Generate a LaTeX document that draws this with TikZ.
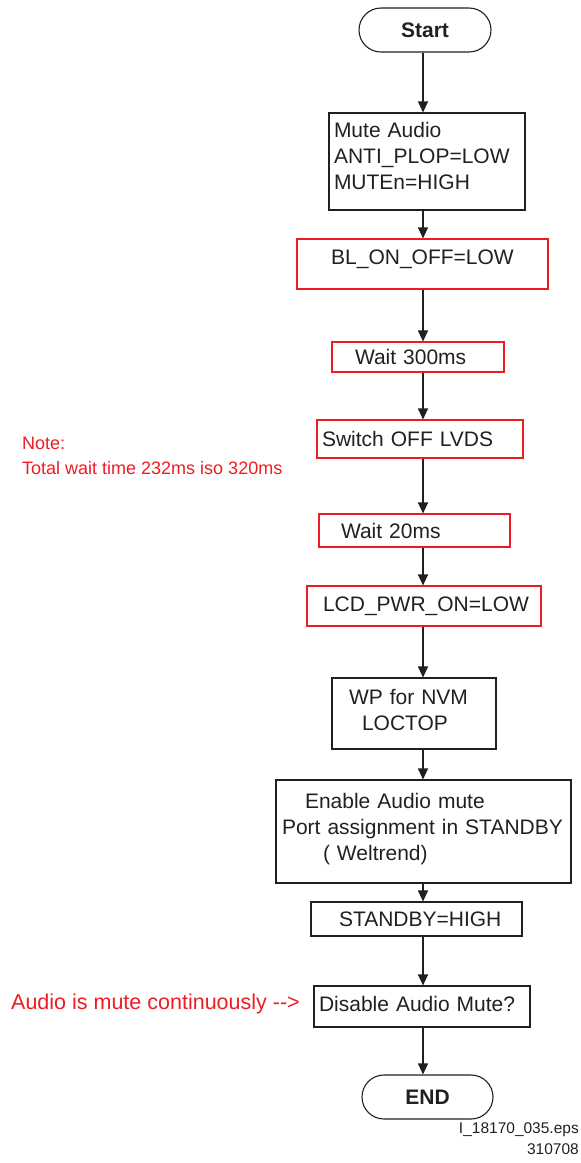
\documentclass[tikz,border=0pt]{standalone}
\usepackage{fontspec}
\setmainfont{Liberation Sans}
\usepackage{xcolor}
\usetikzlibrary{arrows.meta}
\definecolor{flowink}{RGB}{35,31,32}
\definecolor{notered}{RGB}{237,28,36}

\begin{document}
\begin{tikzpicture}[x=1pt, y=-1pt,
        stepbox/.style={rectangle, draw=flowink, line width=1.1pt, text=flowink, align=left, inner ysep=0pt, font=\fontsize{21}{26}\selectfont},
        redbox/.style={stepbox, draw=notered},
        terminal/.style={rectangle, rounded corners=22pt, draw=flowink, line width=1.1pt, text=flowink, minimum height=44pt, font=\fontsize{21}{26}\selectfont\bfseries},
        arrow/.style={-{Triangle[length=11pt, width=10pt]}, line width=1.1pt, draw=flowink},
        remark/.style={text=notered, align=left, inner sep=0pt}
    ]
        \useasboundingbox (0,0) rectangle (581,1163);
        \coordinate (spine) at (423,0);

        % Start
        \node[terminal, minimum width=132pt] (start) at (425,30) {Start};

        % Mute sequence
        \node[stepbox, inner xsep=5pt, text width=186pt, minimum height=97pt, text depth=63pt] (mute) at (427,161.5) {Mute Audio\\ANTI\_PLOP=LOW\\MUTEn=HIGH};
        \node[redbox, align=center, inner xsep=0pt, text width=251pt, minimum height=50pt, text depth=14pt] (bloff) at (422.5,264) {BL\_ON\_OFF=LOW};
        \node[redbox, inner xsep=23pt, text width=126pt, minimum height=30pt] (wait300) at (418,357) {Wait 300ms};
        \node[redbox, inner xsep=5pt, text width=196pt, minimum height=38pt] (lvds) at (420,439) {Switch OFF LVDS};
        \node[redbox, inner xsep=22pt, text width=147pt, minimum height=33pt] (wait20) at (414.5,530.5) {Wait 20ms};
        \node[redbox, inner xsep=16pt, text width=202pt, minimum height=40pt] (lcdpwr) at (424,606) {LCD\_PWR\_ON=LOW};

        % Standby part
        \node[stepbox, inner xsep=4pt, text width=156pt, minimum height=71pt, text depth=33pt] (nvm) at (414,713.5) {\hspace*{13pt}WP for NVM\\\hspace*{26pt}LOCTOP};
        \node[stepbox, inner xsep=4pt, text width=287pt, minimum height=103pt, text depth=62pt] (portmute) at (423.5,831.5) {\hspace*{25pt}Enable Audio mute\\\hspace*{2pt}Port assignment in STANDBY\\\hspace*{43pt}( Weltrend)};
        \node[stepbox, inner xsep=28pt, text width=155pt, minimum height=34pt] (standby) at (416.5,919) {STANDBY=HIGH};
        \node[stepbox, inner xsep=5pt, text width=206pt, minimum height=41pt, text depth=5pt] (unmute) at (422,1006.5) {Disable Audio Mute?};

        % End
        \node[terminal, minimum width=131pt] (stop) at (427.5,1097) {END};

        % Remarks
        \node[remark, anchor=west, font=\fontsize{18}{25}\selectfont] (waitnote) at (22,455.5) {Note:\\Total wait time 232ms iso 320ms};
        \node[remark, anchor=west, font=\fontsize{21.5}{26}\selectfont] (mutenote) at (11,1004) {Audio is mute continuously -\kern0pt-\kern0pt>};
        \node[anchor=east, align=right, inner sep=0pt, text=flowink, font=\fontsize{15.5}{21}\selectfont] (epsref) at (579,1138.5) {I\_18170\_035.eps\\310708};

        % Flow
        \draw[arrow] (start.south -| spine) -- (mute.north -| spine);
        \draw[arrow] (mute.south -| spine) -- (bloff.north -| spine);
        \draw[arrow] (bloff.south -| spine) -- (wait300.north -| spine);
        \draw[arrow] (wait300.south -| spine) -- (lvds.north -| spine);
        \draw[arrow] (lvds.south -| spine) -- (wait20.north -| spine);
        \draw[arrow] (wait20.south -| spine) -- (lcdpwr.north -| spine);
        \draw[arrow] (lcdpwr.south -| spine) -- (nvm.north -| spine);
        \draw[arrow] (nvm.south -| spine) -- (portmute.north -| spine);
        \draw[arrow] (portmute.south -| spine) -- (standby.north -| spine);
        \draw[arrow] (standby.south -| spine) -- (unmute.north -| spine);
        \draw[arrow] (unmute.south -| spine) -- (stop.north -| spine);
    \end{tikzpicture}
\end{document}
